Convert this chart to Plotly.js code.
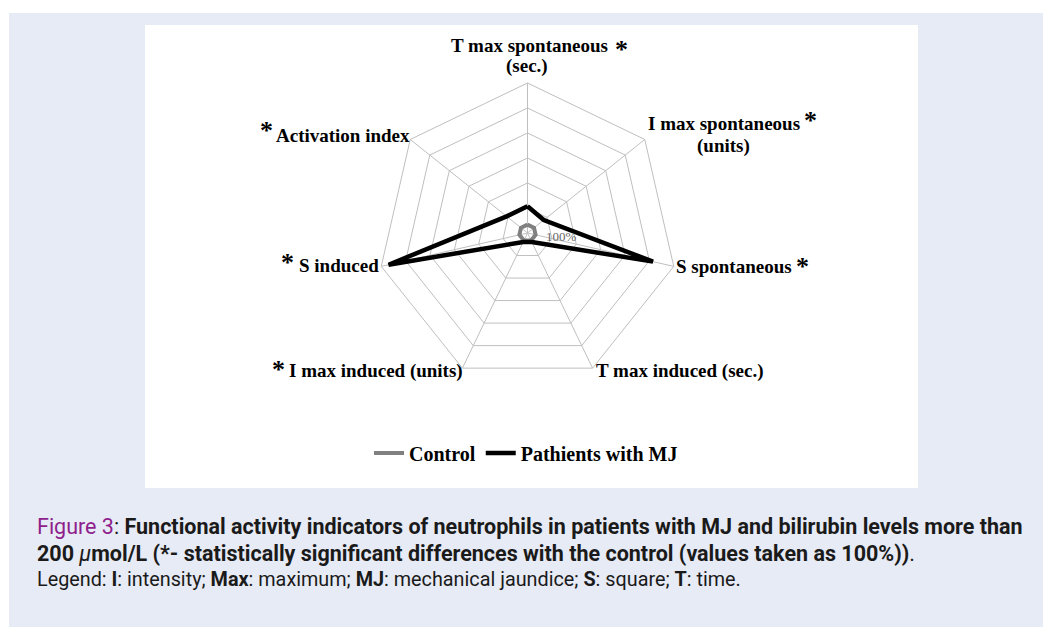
<!DOCTYPE html>
<html>
<head>
<meta charset="utf-8">
<script src="https://cdn.plot.ly/plotly-3.0.1.min.js"></script>
<style>
  html, body { margin: 0; padding: 0; background: #ffffff; }
  #chart { width: 1043px; height: 627px; }
</style>
</head>
<body>
<div id="chart"></div>
<script>
// ---- data ----
const categories = [
  "T max spontaneous (sec.)",
  "I max spontaneous (units)",
  "S spontaneous",
  "T max induced (sec.)",
  "I max induced (units)",
  "S induced",
  "Activation index"
];
const controlValues = [100, 100, 100, 100, 100, 100, 100];
const patientValues = [320, 250, 1545, 120, 120, 1710, 320];
const seriesNames = ["Control", "Pathients with MJ"];
const radialTicks = [0, 300, 600, 900, 1200, 1500, 1800];
const controlLabel = "100%";
const significant = [true, true, true, false, true, true, true];

const labelLines = [
  ["T max spontaneous", "(sec.)"],
  ["I max spontaneous", "(units)"],
  ["S spontaneous"],
  ["T max induced (sec.)"],
  ["I max induced (units)"],
  ["S induced"],
  ["Activation index"]
];

// ---- layout helpers (positions in pixels of the 1043x627 page) ----
const W = 1043, H = 627;
const px = x => x / W;
const py = y => 1 - y / H;
const cx = 527.5, cy = 233, R = 150;

function closeLoop(a) { return a.concat([a[0]]); }

const serif = "Liberation Serif, Times New Roman, serif";
const labelFont = { family: serif, size: 19, color: "#000000" };
const starFont = { family: serif, size: 26, color: "#000000" };

// label placement: [line positions], star position
const labelPos = [
  { lines: [[529, 45, "center"], [527, 66, "center"]], star: [621, 49] },
  { lines: [[724, 124, "center"], [723, 146, "center"]], star: [810, 121] },
  { lines: [[734, 266, "center"]], star: [802, 266] },
  { lines: [[679, 371, "center"]], star: null },
  { lines: [[376, 371, "center"]], star: [278, 369] },
  { lines: [[339, 265, "center"]], star: [287, 262] },
  { lines: [[343, 135, "center"]], star: [266, 130] }
];

const annotations = [];
labelLines.forEach((lines, i) => {
  lines.forEach((t, j) => {
    const p = labelPos[i].lines[j];
    annotations.push({
      xref: "paper", yref: "paper", x: px(p[0]), y: py(p[1]),
      xanchor: p[2], yanchor: "middle", showarrow: false,
      text: "<b>" + t + "</b>", font: labelFont
    });
  });
  if (significant[i] && labelPos[i].star) {
    const s = labelPos[i].star;
    annotations.push({
      xref: "paper", yref: "paper", x: px(s[0]), y: py(s[1]),
      xanchor: "center", yanchor: "middle", showarrow: false,
      text: "<b>*</b>", font: starFont
    });
  }
});

// 100% label
annotations.push({
  xref: "paper", yref: "paper", x: px(544), y: py(236),
  xanchor: "left", yanchor: "middle", showarrow: false,
  text: controlLabel, font: { family: serif, size: 13, color: "#666666" }
});

// caption
const capFont = "Roboto, sans-serif";
const captionLines = [
  ['<span style="color:#8E1F8C">Figure 3</span>: <b>Functional activity indicators of neutrophils in patients with MJ and bilirubin levels more than</b>', 526, 21.5],
  ['<b>200 </b><i>μ</i><b>mol/L (*- statistically significant differences with the control (values taken as 100%))</b>.', 553, 21.5],
  ['Legend: <b>I</b>: intensity; <b>Max</b>: maximum; <b>MJ</b>: mechanical jaundice; <b>S</b>: square; <b>T</b>: time.', 579, 19.8]
];
captionLines.forEach(c => {
  annotations.push({
    xref: "paper", yref: "paper", x: px(35), y: py(c[1]),
    xanchor: "left", yanchor: "middle", showarrow: false,
    text: c[0], font: { family: capFont, size: c[2], color: "#1a1a1a" }
  });
});

const traces = [
  {
    type: "scatterpolar",
    r: closeLoop(controlValues),
    theta: closeLoop(categories),
    mode: "lines",
    name: seriesNames[0],
    line: { color: "#808080", width: 4 },
    hoverinfo: "skip"
  },
  {
    type: "scatterpolar",
    r: closeLoop(patientValues),
    theta: closeLoop(categories),
    mode: "lines",
    name: seriesNames[1],
    line: { color: "#000000", width: 4.5 },
    hoverinfo: "skip"
  }
];

const layout = {
  width: W, height: H,
  margin: { l: 0, r: 0, t: 0, b: 0 },
  paper_bgcolor: "rgba(0,0,0,0)",
  plot_bgcolor: "rgba(0,0,0,0)",
  shapes: [
    { type: "rect", xref: "paper", yref: "paper", x0: px(9), x1: px(1043), y0: py(627), y1: py(13),
      fillcolor: "#E7EBF5", line: { width: 0 }, layer: "below" },
    { type: "rect", xref: "paper", yref: "paper", x0: px(145), x1: px(918), y0: py(488), y1: py(25),
      fillcolor: "#FFFFFF", line: { width: 0 }, layer: "below" }
  ],
  polar: {
    domain: { x: [px(cx - R), px(cx + R)], y: [py(cy + R), py(cy - R)] },
    bgcolor: "rgba(0,0,0,0)",
    gridshape: "linear",
    radialaxis: {
      range: [radialTicks[0], radialTicks[radialTicks.length - 1]],
      tickvals: radialTicks,
      showticklabels: false,
      ticks: "",
      showline: false,
      gridcolor: "#BFBFBF",
      gridwidth: 1
    },
    angularaxis: {
      direction: "clockwise",
      rotation: 90,
      showticklabels: false,
      ticks: "",
      gridcolor: "#BFBFBF",
      gridwidth: 1,
      linecolor: "#BFBFBF",
      linewidth: 1
    }
  },
  showlegend: true,
  legend: {
    orientation: "h",
    x: px(526), y: py(453),
    xanchor: "center", yanchor: "middle",
    bgcolor: "rgba(0,0,0,0)",
    font: { family: serif, size: 20, color: "#000000", weight: "bold" },
    itemwidth: 30,
    tracegroupgap: 0
  },
  annotations: annotations
};

Plotly.newPlot("chart", traces, layout, { displayModeBar: false, staticPlot: true });
</script>
</body>
</html>
